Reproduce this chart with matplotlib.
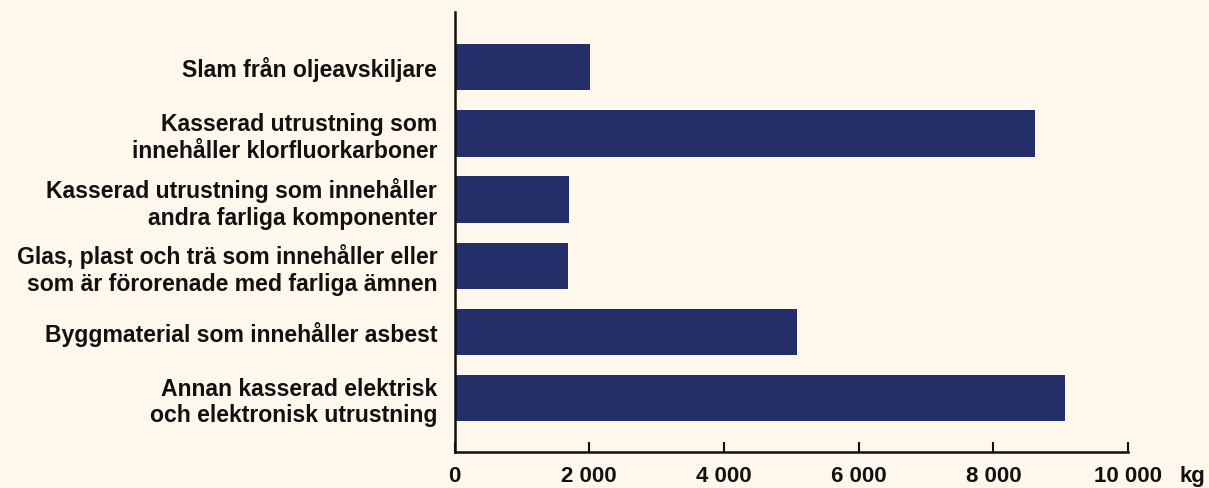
import matplotlib.pyplot as plt

# Farligt avfall, kg per avfallsslag
categories = [
    "Slam från oljeavskiljare",
    "Kasserad utrustning som\ninnehåller klorfluorkarboner",
    "Kasserad utrustning som innehåller\nandra farliga komponenter",
    "Glas, plast och trä som innehåller eller\nsom är förorenade med farliga ämnen",
    "Byggmaterial som innehåller asbest",
    "Annan kasserad elektrisk\noch elektronisk utrustning",
]
values_kg = [2010, 8620, 1700, 1690, 5090, 9065]

xticks = [0, 2000, 4000, 6000, 8000, 10000]
xtick_labels = ["0", "2 000", "4 000", "6 000", "8 000", "10 000"]

bg = "#fdf7ec"
bar_color = "#242e68"
text_color = "#111111"

plt.rcParams["font.family"] = ["Liberation Sans", "DejaVu Sans"]
fsize = 16

fig = plt.figure(figsize=(12.09, 4.88), dpi=100, facecolor=bg)
ax = fig.add_axes([0.376, 0.074, 0.557, 0.9015])
ax.set_facecolor(bg)

ypos = list(range(len(categories)))
ax.barh(ypos, values_kg, height=0.7, color=bar_color, zorder=2)

ax.set_xlim(0, 10000)
ax.set_ylim(5.81, -0.835)

ax.set_yticks(ypos)
ax.set_yticklabels(categories, fontsize=16.6, fontweight="bold", color=text_color,
                   linespacing=1.2)
ax.tick_params(axis="y", length=0, pad=12.5)

ax.set_xticks(xticks)
ax.set_xticklabels(xtick_labels, fontsize=fsize, fontweight="bold", color=text_color)
ax.tick_params(axis="x", direction="in", length=7.5, width=1.5, pad=10, colors=text_color)

for side in ["top", "right"]:
    ax.spines[side].set_visible(False)
for side in ["left", "bottom"]:
    ax.spines[side].set_linewidth(1.8)
    ax.spines[side].set_color(text_color)

ax.annotate("kg", xy=(10000, 0), xycoords=("data", "axes fraction"),
            xytext=(37, -10), textcoords="offset points", ha="left", va="top",
            fontsize=fsize, fontweight="bold", color=text_color)

fig.savefig("out.png", dpi=100, facecolor=bg)
